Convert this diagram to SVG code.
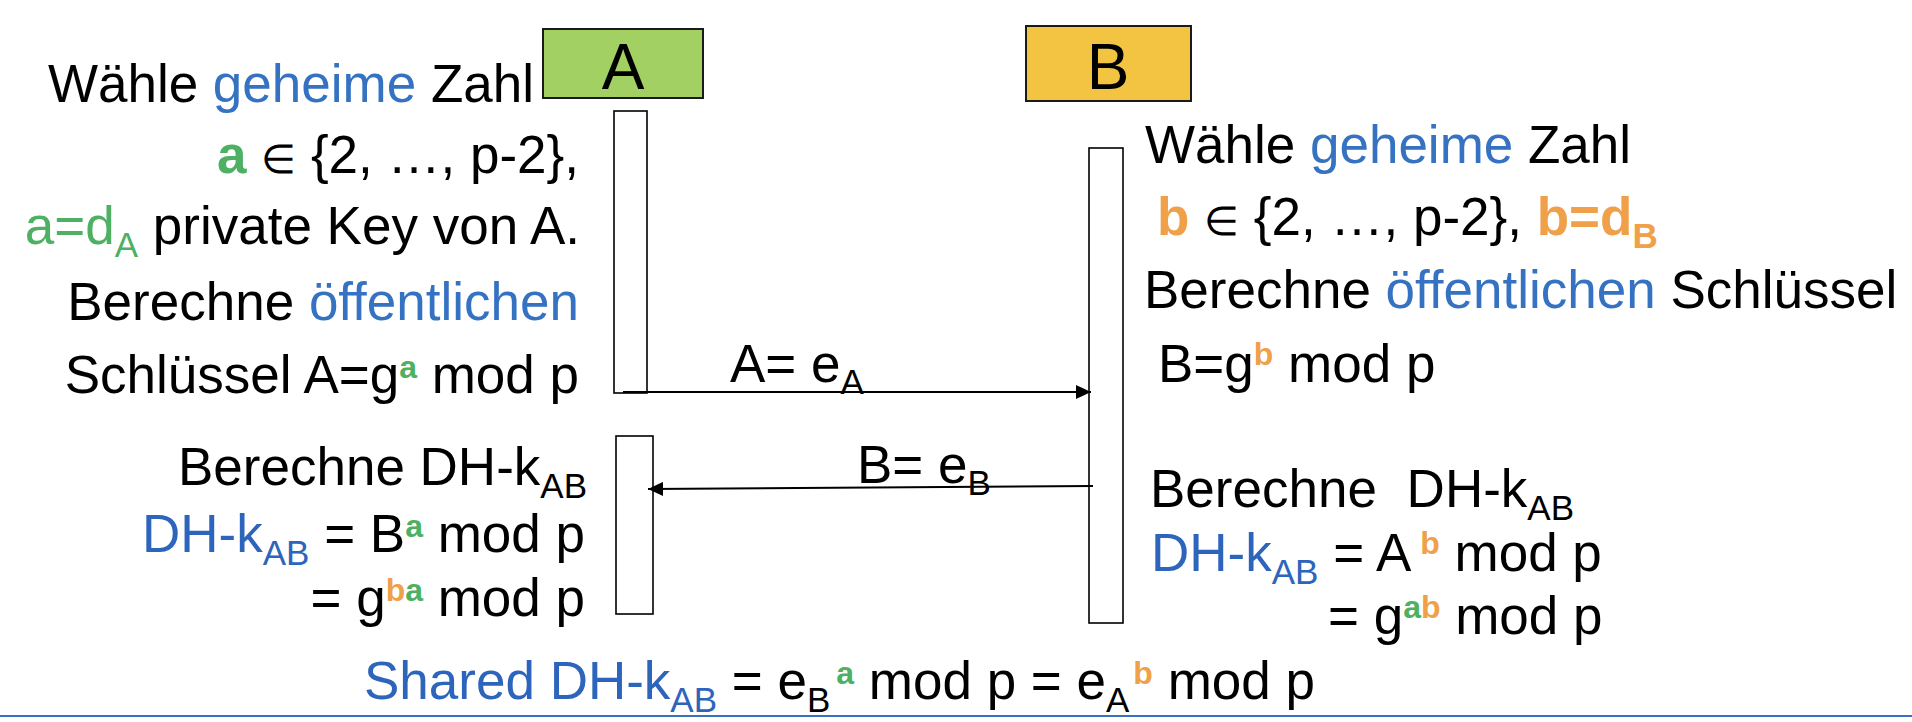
<svg xmlns="http://www.w3.org/2000/svg" width="1912" height="722" viewBox="0 0 1912 722">
  <defs>
    <style>
      .t { font-family: "Liberation Sans", Arial, sans-serif; font-size: 53px; fill: #000; }
      .hdr { font-family: "Liberation Sans", Arial, sans-serif; font-size: 64px; fill: #000; text-anchor: middle; }
      .end { text-anchor: end; }
      .blue { fill: #3572C2; }
      .dh { fill: #2D65BD; }
      .grn { fill: #4DB062; }
      .org { fill: #F0A049; }
      .b { font-weight: bold; }
      .sub { font-size: 35px; }
      .sup { font-size: 32px; font-weight: bold; }
      .elem { font-size: 40px; }
      .act { fill: #fff; stroke: #000; stroke-width: 1.6; }
      .conn { stroke: #000; stroke-width: 2; fill: none; }
    </style>
    <marker id="arr" markerUnits="userSpaceOnUse" markerWidth="16" markerHeight="14" refX="15" refY="7" orient="auto">
      <path d="M0,0 L15,7 L0,14 Z" fill="#000"/>
    </marker>
  </defs>
  <rect width="1912" height="722" fill="#fff"/>

  <g id="node-A">
    <rect x="543" y="29" width="160" height="69" fill="#A2D063" stroke="#1a1a1a" stroke-width="2"/>
    <text class="hdr" x="623" y="89">A</text>
  </g>
  <g id="node-B">
    <rect x="1026" y="26" width="165" height="75" fill="#F3C342" stroke="#1a1a1a" stroke-width="2"/>
    <text class="hdr" x="1108" y="89">B</text>
  </g>

  <g id="activation-A1"><rect class="act" x="614" y="111" width="33" height="282"/></g>
  <g id="activation-A2"><rect class="act" x="616" y="436" width="37" height="178"/></g>
  <g id="activation-B"><rect class="act" x="1089" y="148" width="34" height="475"/></g>

  <g id="connectors">
    <line class="conn" x1="623" y1="392" x2="1091" y2="392" marker-end="url(#arr)"/>
    <line class="conn" x1="1093" y1="486" x2="648" y2="489" marker-end="url(#arr)"/>
    <text class="t" x="730" y="382">A= e<tspan class="sub" dy="12">A</tspan></text>
    <text class="t" x="857" y="483">B= e<tspan class="sub" dy="12">B</tspan></text>
  </g>

  <g id="text-A-top">
    <text class="t end" x="534" y="102">Wähle <tspan class="blue">geheime</tspan> Zahl</text>
    <text class="t end" x="579" y="173"><tspan class="grn b">a</tspan> <tspan class="elem">∈</tspan> {2, …, p-2},</text>
    <text class="t end" x="580" y="244"><tspan class="grn">a=d</tspan><tspan class="grn sub" dy="13">A</tspan><tspan dy="-13"> private Key von A.</tspan></text>
    <text class="t end" x="579" y="320">Berechne <tspan class="blue">öffentlichen</tspan></text>
    <text class="t end" x="579" y="393">Schlüssel A=g<tspan class="sup grn" dy="-15">a</tspan><tspan dy="15"> mod p</tspan></text>
  </g>

  <g id="text-A-bottom">
    <text class="t end" x="587" y="485">Berechne DH-k<tspan class="sub" dy="13">AB</tspan></text>
    <text class="t end" x="585" y="552"><tspan class="dh">DH-k</tspan><tspan class="dh sub" dy="13">AB</tspan><tspan dy="-13"> = B</tspan><tspan class="sup grn" dy="-15">a</tspan><tspan dy="15"> mod p</tspan></text>
    <text class="t end" x="585" y="616">= g<tspan class="sup org" dy="-15">b</tspan><tspan class="sup grn">a</tspan><tspan dy="15"> mod p</tspan></text>
  </g>

  <g id="text-B-top">
    <text class="t" x="1145" y="163">Wähle <tspan class="blue">geheime</tspan> Zahl</text>
    <text class="t" x="1157" y="235"><tspan class="org b">b</tspan> <tspan class="elem">∈</tspan> {2, …, p-2}, <tspan class="org b">b=d</tspan><tspan class="org b sub" dy="13">B</tspan></text>
    <text class="t" x="1144" y="308">Berechne <tspan class="blue">öffentlichen</tspan> Schlüssel</text>
    <text class="t" x="1158" y="382">B=g<tspan class="sup org" dy="-17">b</tspan><tspan dy="17"> mod p</tspan></text>
  </g>

  <g id="text-B-bottom">
    <text class="t" x="1150" y="507">Berechne <tspan dx="15">DH-k</tspan><tspan class="sub" dy="13">AB</tspan></text>
    <text class="t" x="1151" y="571"><tspan class="dh">DH-k</tspan><tspan class="dh sub" dy="13">AB</tspan><tspan dy="-13"> = A</tspan><tspan class="sup org" dy="-17" dx="9">b</tspan><tspan dy="17"> mod p</tspan></text>
    <text class="t" x="1328" y="634">= g<tspan class="sup grn" dy="-16">a</tspan><tspan class="sup org">b</tspan><tspan dy="16"> mod p</tspan></text>
  </g>

  <g id="text-shared">
    <text class="t" x="364" y="699"><tspan class="dh">Shared DH-k</tspan><tspan class="dh sub" dy="13">AB</tspan><tspan dy="-13"> = e</tspan><tspan class="sub" dy="13">B</tspan><tspan class="sup grn" dy="-28" dx="6">a</tspan><tspan dy="15"> mod p = e</tspan><tspan class="sub" dy="13">A</tspan><tspan class="sup org" dy="-28" dx="4">b</tspan><tspan dy="15"> mod p</tspan></text>
  </g>

  <line x1="0" y1="716" x2="1912" y2="716" stroke="#3A70BE" stroke-width="2"/>
</svg>
